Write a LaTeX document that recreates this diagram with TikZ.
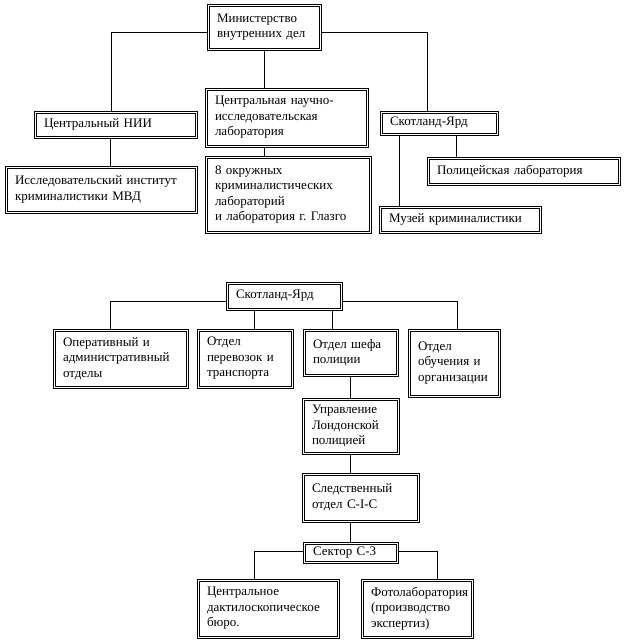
\documentclass[tikz,border=0pt]{standalone}
\usepackage{fontspec}
\setmainfont{Liberation Serif}
\newcommand\mb[1]{\mbox{#1}}
\begin{document}
\begin{tikzpicture}[x=1pt,y=-1pt,
  bx/.style={draw, line width=0.55pt, align=left,
    inner xsep=10pt, inner ysep=0pt, font=\fontsize{13}{15.5}\selectfont, anchor=center},
  inr/.style={line width=0.55pt},
  ln/.style={line width=0.7pt}]
\useasboundingbox (0,0) rectangle (625,642);
% top chart
\node[bx, minimum width=114pt, minimum height=46pt, text width=94pt] (A) at (264,27) {\mb{Министерство}\\\mb{внутренних дел}};
\node[bx, minimum width=163pt, minimum height=27pt, text width=143pt] (B) at (115.5,124.5) {\mb{Центральный НИИ}};
\node[bx, minimum width=192pt, minimum height=47pt, text width=172pt] (C) at (101,189.5) {\mb{Исследовательский институт}\\\mb{криминалистики МВД}};
\node[bx, minimum width=163pt, minimum height=59pt, text width=143pt] (D) at (286.5,117.5) {\mb{Центральная научно-}\\\mb{исследовательская}\\\mb{лаборатория}};
\node[bx, minimum width=166pt, minimum height=77pt, text width=146pt] (E) at (288,194.5) {\mb{8 окружных}\\\mb{криминалистических}\\\mb{лабораторий}\\\mb{и лаборатория г.\ Глазго}};
\node[bx, minimum width=118pt, minimum height=24pt, text width=98pt] (F) at (439,123) {\mb{Скотланд-Ярд}};
\node[bx, minimum width=193pt, minimum height=28pt, text width=173pt] (G) at (523.5,171) {\mb{Полицейская лаборатория}};
\node[bx, minimum width=162pt, minimum height=27pt, text width=142pt] (H) at (460,219.5) {\mb{Музей криминалистики}};
% bottom chart
\node[bx, minimum width=116pt, minimum height=28pt, text width=96pt] (I) at (284,296) {\mb{Скотланд-Ярд}};
\node[bx, minimum width=135pt, minimum height=59pt, text width=115pt] (J) at (120.5,358.5) {\mb{Оперативный и}\\\mb{административный}\\\mb{отделы}};
\node[bx, minimum width=96pt, minimum height=59pt, text width=76pt] (K) at (245,358.5) {\mb{Отдел}\\\mb{перевозок и}\\\mb{транспорта}};
\node[bx, minimum width=95pt, minimum height=47pt, text width=75pt] (L) at (350.5,352.5) {\mb{Отдел шефа}\\\mb{полиции}};
\node[bx, minimum width=92pt, minimum height=68pt, text width=72pt] (M) at (454,363) {\mb{Отдел}\\\mb{обучения и}\\\mb{организации}};
\node[bx, minimum width=97pt, minimum height=56pt, text width=77pt] (N) at (350.5,426) {\mb{Управление}\\\mb{Лондонской}\\\mb{полицией}};
\node[bx, minimum width=117pt, minimum height=49pt, text width=97pt] (O) at (360.5,497.5) {\mb{Следственный}\\\mb{отдел C-I-C}};
\node[bx, minimum width=95pt, minimum height=21pt, text width=75pt] (P) at (350.5,552.5) {\mb{Сектор С-3}};
\node[bx, minimum width=142pt, minimum height=59pt, text width=122pt] (Q) at (268,608.5) {\mb{Центральное}\\\mb{дактилоскопическое}\\\mb{бюро.}};
\node[bx, minimum width=112pt, minimum height=59pt, text width=92pt] (R) at (417,608.5) {\mb{Фотолаборатория}\\\mb{(производство}\\\mb{экспертиз)}};
% inner lines of the double borders
\foreach \n in {A,B,C,D,E,F,G,H,I,J,K,L,M,N,O,P,Q,R}
  \draw[inr] ([shift={(2.2pt,-2.2pt)}]\n.north west) rectangle ([shift={(-2.2pt,2.2pt)}]\n.south east);
% connectors top
\draw[ln] ([yshift=-5pt]A.west) -| ([xshift=-4.5pt]B.north);
\draw[ln] ([yshift=-5pt]A.east) -| ([xshift=-12pt]F.north);
\draw[ln] ([xshift=-22.5pt]D.north) coordinate (d1) -- (d1 |- A.south);
\draw[ln] ([xshift=-22.5pt]D.south) coordinate (d2) -- (d2 |- E.north);
\draw[ln] ([xshift=-5.5pt]B.south) coordinate (b1) -- (b1 |- C.north);
\draw[ln] ([xshift=-40pt]F.south) coordinate (f1) -- (f1 |- H.north);
\draw[ln] ([xshift=17pt]F.south) coordinate (f2) -- (f2 |- G.north);
% connectors bottom
\draw[ln] ([yshift=-5pt]I.west) -| ([xshift=-10.5pt]J.north);
\draw[ln] ([yshift=-5pt]I.east) -| ([xshift=3pt]M.north);
\draw[ln] ([xshift=9pt]K.north) coordinate (k1) -- (k1 |- I.south);
\draw[ln] ([xshift=-18.5pt]L.north) coordinate (l1) -- (l1 |- I.south);
\draw[ln] (L.south) -- (L.south |- N.north);
\draw[ln] (N.south) -- (N.south |- O.north);
\draw[ln] (P.north) -- (P.north |- O.south);
\draw[ln] ([yshift=1.5pt]P.west) -| ([xshift=-14pt]Q.north);
\draw[ln] ([yshift=1.5pt]P.east) -| ([xshift=20pt]R.north);
\end{tikzpicture}
\end{document}
